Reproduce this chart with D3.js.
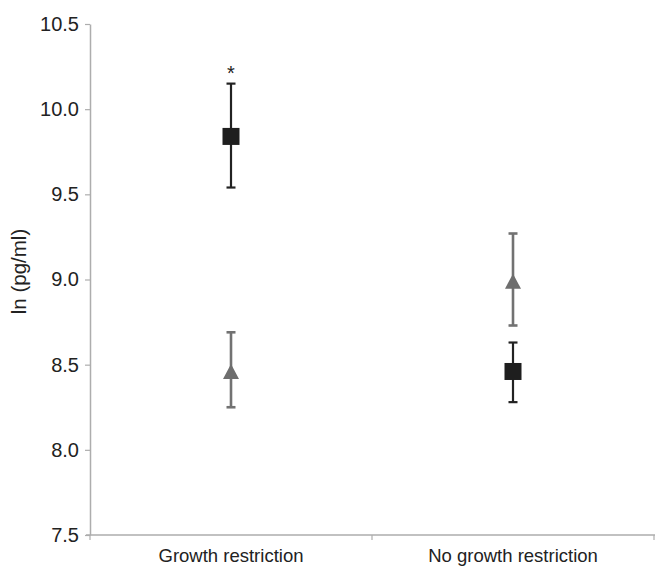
<!DOCTYPE html>
<html><head><meta charset="utf-8">
<script src="https://cdn.jsdelivr.net/npm/d3@7/dist/d3.min.js"></script>
<style>body{margin:0;background:#fff}svg{display:block}text{font-family:"Liberation Sans",Arial,sans-serif}</style>
</head><body><svg id="c" width="655" height="567"></svg>
<script>
const categories = ["Growth restriction", "No growth restriction"];
const squareMean = [9.84, 8.46];
const squareLow  = [9.54, 8.28];
const squareHigh = [10.15, 8.63];
const triMean = [8.46, 8.99];
const triLow  = [8.25, 8.73];
const triHigh = [8.69, 9.27];
const yTicks = [7.5, 8.0, 8.5, 9.0, 9.5, 10.0, 10.5];
const significance = ["*", ""];

(function () {
const svg = d3.select("#c");
const mLeft = 90, mRight = 654, mTop = 24, mBottom = 535;
const y = d3.scaleLinear().domain([7.5, 10.5]).range([mBottom, mTop]);
const x = d3.scaleBand().domain(categories).range([mLeft, mRight]);
const axisCol = "#adadad";

const ya = svg.append("g").attr("transform", `translate(${mLeft},0)`)
  .call(d3.axisLeft(y).tickValues(yTicks).tickFormat(d3.format(".1f")).tickSize(5).tickSizeOuter(0));
ya.select(".domain").attr("stroke", axisCol).attr("stroke-width", 1.5);
ya.selectAll(".tick line").attr("stroke", axisCol).attr("stroke-width", 1.2);
ya.selectAll(".tick text").attr("font-size", 20).attr("fill", "#222").attr("x", -11);

const xa = svg.append("g").attr("transform", `translate(0,${mBottom})`)
  .call(d3.axisBottom(x).tickSize(0).tickSizeOuter(0));
xa.select(".domain").attr("stroke", axisCol).attr("stroke-width", 1.5).attr("d", `M${mLeft-4},0H${mRight+1}`);
xa.selectAll(".tick text").attr("font-size", 18.5).attr("fill", "#222").attr("y", 0).attr("dy", "1.45em");
const bounds = [mLeft, x(categories[1]), mRight];
xa.selectAll(".btick").data(bounds).join("line").attr("class", "btick")
  .attr("x1", d => d).attr("x2", d => d).attr("y1", 0).attr("y2", 5)
  .attr("stroke", axisCol).attr("stroke-width", 1.2);

svg.append("text").attr("transform", `translate(26,${(mTop+mBottom)/2 - 8}) rotate(-90)`)
  .attr("text-anchor", "middle").attr("font-size", 20.5).attr("fill", "#222").text("ln (pg/ml)");

const cx = d => x(d) + x.bandwidth() / 2;
const cap = 4.5;

function errBars(cls, low, high, color, w) {
  const g = svg.append("g").attr("class", cls).attr("stroke", color).attr("stroke-width", w);
  categories.forEach((c, i) => {
    g.append("line").attr("x1", cx(c)).attr("x2", cx(c)).attr("y1", y(low[i])).attr("y2", y(high[i]));
    g.append("line").attr("x1", cx(c)-cap).attr("x2", cx(c)+cap).attr("y1", y(low[i])).attr("y2", y(low[i]));
    g.append("line").attr("x1", cx(c)-cap).attr("x2", cx(c)+cap).attr("y1", y(high[i])).attr("y2", y(high[i]));
  });
}
errBars("err-tri", triLow, triHigh, "#727272", 2.6);
errBars("err-sq", squareLow, squareHigh, "#222", 2.2);

const tw = 16, th = 15;
svg.append("g").selectAll("path").data(categories).join("path")
  .attr("d", `M0,${-th/2}L${tw/2},${th/2}L${-tw/2},${th/2}Z`).attr("fill", "#6e6e6e")
  .attr("transform", (c, i) => `translate(${cx(c)},${y(triMean[i])})`);

const s = 17;
svg.append("g").selectAll("rect").data(categories).join("rect")
  .attr("x", c => cx(c) - s/2).attr("y", (c, i) => y(squareMean[i]) - s/2)
  .attr("width", s).attr("height", s).attr("fill", "#1e1e1e");

svg.append("g").selectAll("text").data(categories).join("text")
  .attr("x", c => cx(c)).attr("y", (c, i) => y(squareHigh[i]) - 4)
  .attr("text-anchor", "middle").attr("font-size", 20).attr("fill", "#222")
  .text((c, i) => significance[i]);
})();
</script></body></html>
